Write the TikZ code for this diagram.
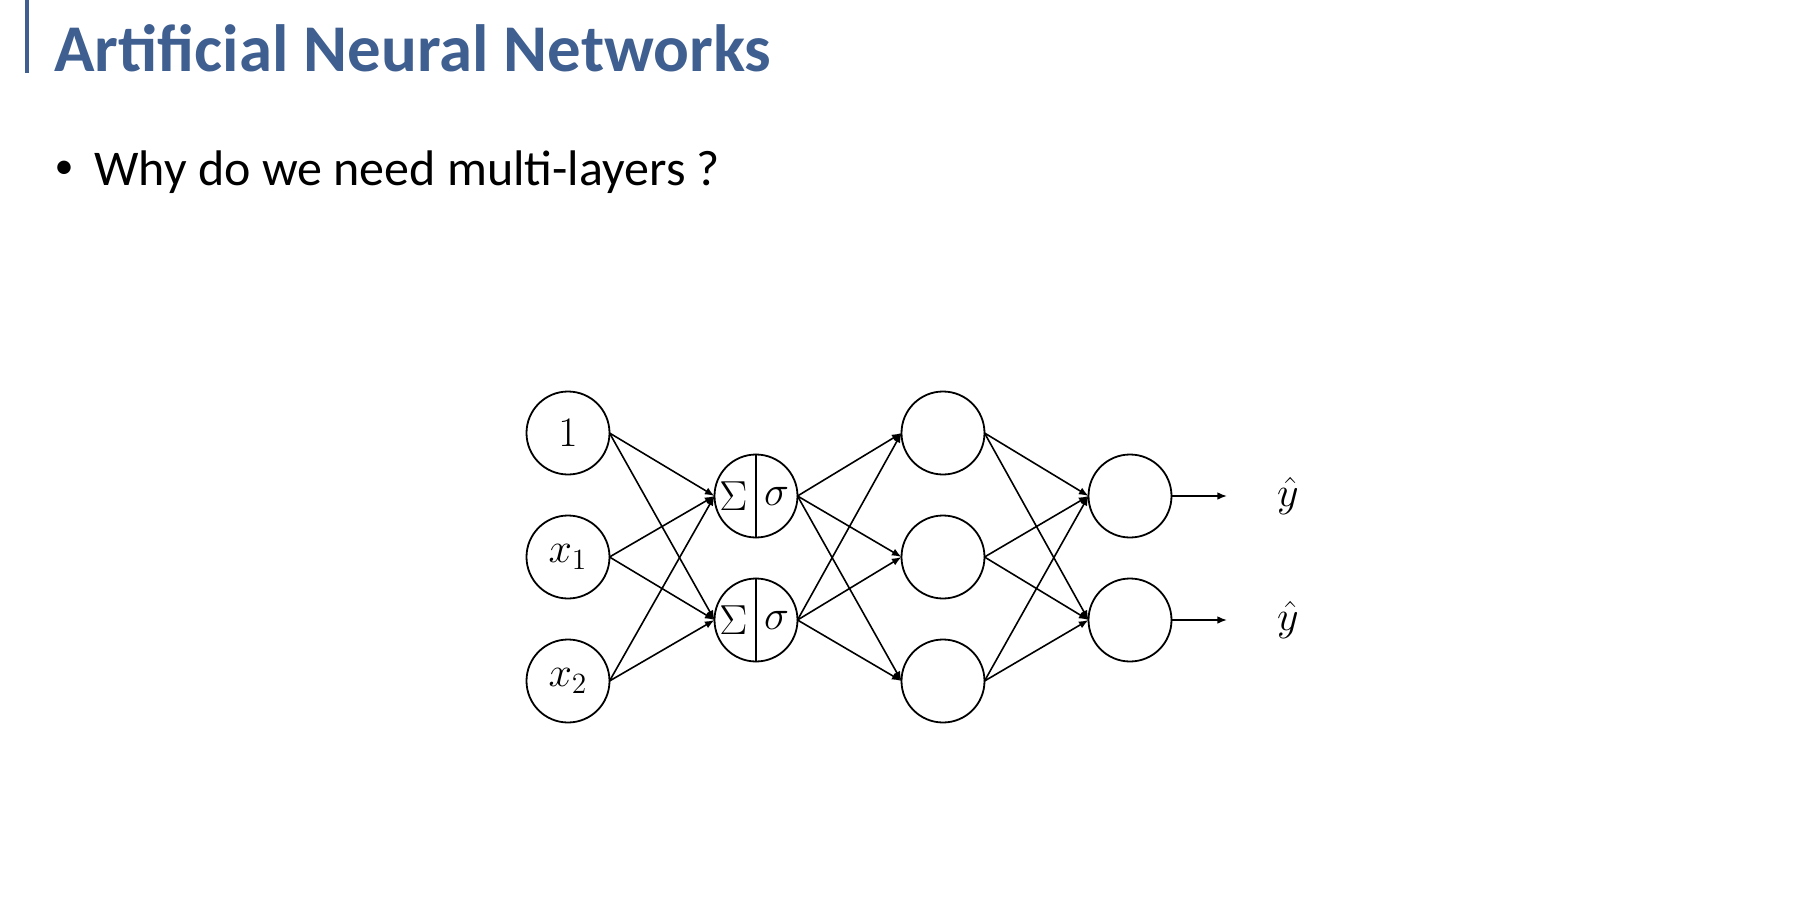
\RequirePackage{fix-cm}
\documentclass[tikz,border=0pt]{standalone}
\usepackage{amsmath,amssymb}
\usepackage[no-math]{fontspec}
\setmainfont{Carlito}
\usepackage{xcolor}
\usetikzlibrary{arrows.meta,positioning}
\definecolor{slideblue}{HTML}{3F5F91}
\definecolor{ink}{HTML}{000000}
\tikzset{
    every picture/.style={line cap=round,line join=round},
    neuron/.style={draw=ink,circle,line width=0.9pt,minimum size=41.5pt,
      inner sep=0pt,outer sep=0pt,font=\fontsize{21}{21}\selectfont},
    glyph/.style={inner sep=0pt,font=\fontsize{21}{21}\selectfont},
    wire/.style={-{Latex[length=4.8pt,width=3.8pt]},draw=ink,line width=0.8pt},
    headline/.style={anchor=base west,inner sep=0pt,text=slideblue,
      font=\fontsize{33.4}{36}\selectfont\bfseries},
    bodytext/.style={anchor=base west,inner sep=0pt,text=ink,
      font=\fontsize{25}{28}\selectfont}
}

\begin{document}
\begin{tikzpicture}[x=0.5pt,y=-0.5pt]
  \useasboundingbox (0,0) rectangle (1794,916);
  % slide heading
  \draw[slideblue,line width=1.6pt,line cap=butt] (27,0)--(27,73);
  \node[headline] (title) at (54,71) {Artificial Neural Networks};
  \node[inner sep=0pt,font=\fontsize{19}{19}\selectfont] (dot) at (64,170) {\textbullet};
  \node[bodytext] (question) at (94,185) {Why do we need multi-layers ?};
  % input layer and second hidden layer
  \foreach \i/\y/\t in {1/433/1,2/557/x_1,3/681/x_2} {
    \node[neuron] (in\i) at (568,\y) {$\t$};
    \node[neuron] (hid\i) at (943,\y) {};
  }
  % summing units and outputs
  \foreach \i/\y in {1/496,2/620} {
    \node[neuron] (sum\i) at (756,\y) {};
    \draw[ink,line width=0.9pt] (sum\i.north)--(sum\i.south);
    \node[glyph] (sig\i) at ([xshift=-11.3pt]sum\i.center) {$\Sigma$};
    \node[glyph] (act\i) at ([xshift=10.3pt]sum\i.center) {$\sigma$};
    \node[neuron] (out\i) at (1130,\y) {};
    \coordinate (tip\i) at (1227,\y);
    \node[glyph] (yhat\i) at (1288,\y) {$\hat{y}$};
    \draw[wire] (out\i.east)--(tip\i);
  }
  \foreach \a in {1,2,3}
    \foreach \b in {1,2} {
      \draw[wire] (in\a.east)--(sum\b.west);
      \draw[wire] (sum\b.east)--(hid\a.west);
      \draw[wire] (hid\a.east)--(out\b.west);
    }
\end{tikzpicture}
\end{document}
